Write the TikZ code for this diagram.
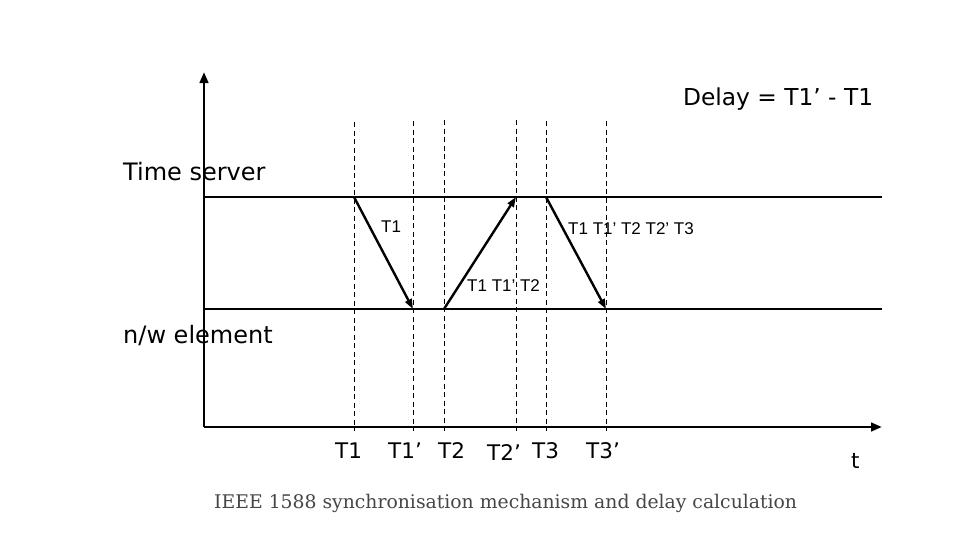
\documentclass[tikz,border=0pt]{standalone}
\usepackage{fontspec}
\usetikzlibrary{arrows.meta}
\newfontfamily\tahfont{DejaVu Sans}
\newfontfamily\arialfont{Liberation Sans}
\newfontfamily\capfont{DejaVu Serif}
\definecolor{capgray}{RGB}{70,70,70}
\begin{document}
\begin{tikzpicture}[x=1pt,y=-1pt,
  axis/.style={line width=2.8pt,-{Triangle[length=11pt,width=8.5pt]}},
  track/.style={line width=2.4pt},
  msg/.style={line width=2.4pt,-{Triangle[length=10pt,width=7pt]}},
  guide/.style={line width=1pt,dash pattern=on 5pt off 3.5pt},
  big/.style={font=\tahfont\fontsize{24}{27}\selectfont,inner sep=0pt,anchor=base west},
  tick/.style={font=\tahfont\fontsize{21.5}{24}\selectfont,inner sep=0pt,anchor=base west},
  small/.style={font=\arialfont\fontsize{17}{19}\selectfont,inner sep=0pt,anchor=base west},
  caption/.style={font=\capfont\fontsize{18.8}{22}\selectfont,text=capgray,inner sep=0pt,anchor=base west}]
\useasboundingbox (0,0) rectangle (974,535);
% coordinates
\coordinate (O) at (204,427);
\coordinate (Ytop) at (204,72);
\coordinate (Xend) at (882,427);
\coordinate (S0) at (204,197);
\coordinate (S1) at (882,197);
\coordinate (N0) at (204,309);
\coordinate (N1) at (882,309);
% dashed guides
\foreach \nm/\x/\yt in {g1/354/122,g2/413/121,g3/444/120,g4/516/120,g5/546/121,g6/606/121}{
  \coordinate (\nm t) at (\x,\yt);
  \coordinate (\nm b) at (\x,431);
  \draw[guide] (\nm t) -- (\nm b);
}
% tracks
\draw[track] (S0) -- (S1);
\draw[track] (N0) -- (N1);
% axes
\draw[axis] (O) -- (Ytop);
\draw[axis] (O) -- (Xend);
% messages
\coordinate (m1a) at (354,197); \coordinate (m1b) at (413,309);
\coordinate (m2a) at (444,309); \coordinate (m2b) at (516,197);
\coordinate (m3a) at (546,197); \coordinate (m3b) at (606,309);
\draw[msg] (m1a) -- (m1b);
\draw[msg] (m2a) -- (m2b);
\draw[msg] (m3a) -- (m3b);
% labels
\node[big] (ts) at (123,180) {Time server};
\node[big] (nw) at (123,343) {n/w element};
\node[big,font=\tahfont\fontsize{23.3}{26}\selectfont] (delay) at (683,105) {Delay = T1’ - T1};
\node[small] (l1) at (381,232) {T1};
\node[small] (l2) at (467,291) {T1 T1’ T2};
\node[small] (l3) at (568,234) {T1 T1’ T2 T2’ T3};
\node[tick] (t1) at (335,458) {T1};
\node[tick] (t1p) at (388,458) {T1’};
\node[tick] (t2) at (438,458) {T2};
\node[tick] (t2p) at (487,460) {T2’};
\node[tick] (t3) at (532,458) {T3};
\node[tick] (t3p) at (586,458) {T3’};
\node[tick] (tt) at (851,468) {t};
\node[caption] (cap) at (214,508) {IEEE 1588 synchronisation mechanism and delay calculation};
\end{tikzpicture}
\end{document}
